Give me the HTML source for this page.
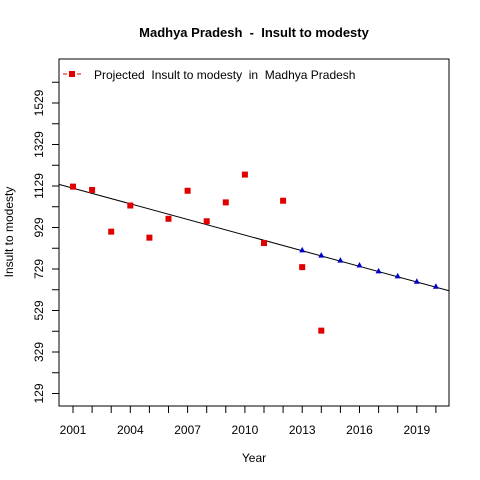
<!DOCTYPE html>
<html><head><meta charset="utf-8"><style>body{margin:0;background:#fff}svg{display:block;font-family:"Liberation Sans",Arial,sans-serif}text{white-space:pre}</style></head>
<body>
<svg id="c" width="480" height="480">
<rect width="480" height="480" fill="#fff"/>
<text x="254" y="37" text-anchor="middle" font-size="13" font-weight="bold" xml:space="preserve">Madhya Pradesh  -  Insult to modesty</text>
<rect x="59" y="59" width="390" height="347" fill="none" stroke="#000"/>
<text x="254" y="462" text-anchor="middle" font-size="12">Year</text>
<text transform="translate(13,232) rotate(-90)" text-anchor="middle" font-size="12">Insult to modesty</text>
<g>
<line x1="63" y1="74" x2="82" y2="74" stroke="#e00000" stroke-dasharray="4,3"/>
<rect x="69" y="71" width="6" height="6" fill="#e00000"/>
<text x="94" y="79" font-size="12" xml:space="preserve">Projected  Insult to modesty  in  Madhya Pradesh</text>
</g>
<g id="g"></g>
</svg>
<script>
const years=[2001,2002,2003,2004,2005,2006,2007,2008,2009,2010,2011,2012,2013,2014];
const actual=[1126,1110,909,1035,880,971,1106,959,1050,1184,854,1058,738,432];
const projYears=[2013,2014,2015,2016,2017,2018,2019,2020];
const projected=[821,796,772,748,720,696,670,646];
const trendEnds=[1137,624];
const yTicks=[129,229,329,429,529,629,729,829,929,1029,1129,1229,1329,1429,1529,1629];
const yLabels=[129,329,529,729,929,1129,1329,1529];
const xTicks=[2001,2002,2003,2004,2005,2006,2007,2008,2009,2010,2011,2012,2013,2014,2015,2016,2017,2018,2019,2020];
const xLabels=[2001,2004,2007,2010,2013,2016,2019];
const X=v=>73+(v-2001)*19.1;
const Y=v=>186-(v-1129)*0.2075;
const NS="http://www.w3.org/2000/svg",g=document.getElementById('g');
function mk(t,a){const e=document.createElementNS(NS,t);for(const k in a)e.setAttribute(k,a[k]);g.appendChild(e);return e;}
yTicks.forEach(v=>{const e=mk('line',{x1:52,x2:59,y1:Y(v),y2:Y(v),stroke:'#000'});

});
yLabels.forEach(v=>{const e=mk('text',{transform:`translate(43,${Y(v)}) rotate(-90)`,'text-anchor':'middle','font-size':12});e.textContent=v;

});
xTicks.forEach(v=>{const e=mk('line',{x1:X(v),x2:X(v),y1:406,y2:413,stroke:'#000'});

});
xLabels.forEach(v=>{const e=mk('text',{x:X(v),y:434,'text-anchor':'middle','font-size':12});e.textContent=v;

});
const tl=mk('line',{x1:59,y1:Y(trendEnds[0]),x2:449,y2:Y(trendEnds[1]),stroke:'#000'});


years.forEach((yr,i)=>{const e=mk('rect',{x:X(yr)-3,y:Y(actual[i])-3,width:6,height:6,fill:'#e00000'});

});
projYears.forEach((yr,i)=>{const x=X(yr),y=Y(projected[i]);const e=mk('polygon',{points:`${x-3},${y+2.5} ${x+3},${y+2.5} ${x},${y-3}`,fill:'#0000cc'});

});
</script>
</body></html>
